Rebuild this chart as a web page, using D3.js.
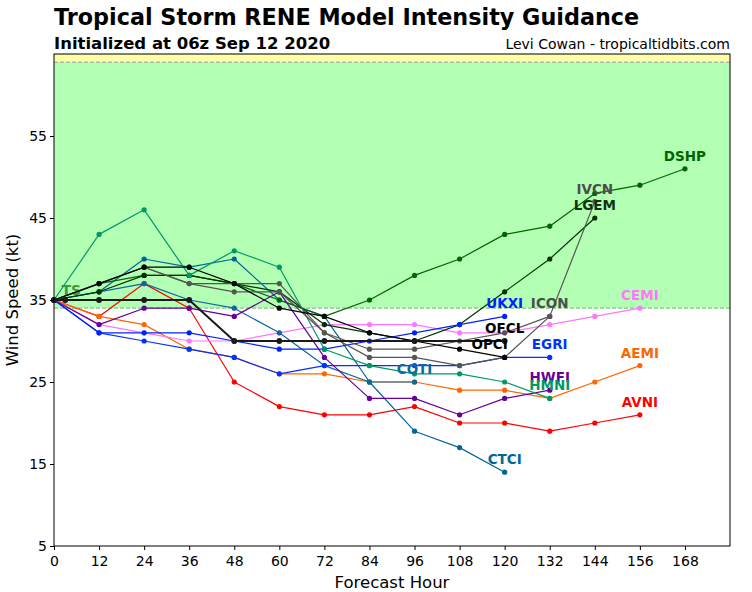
<!DOCTYPE html>
<html>
<head>
<meta charset="utf-8">
<script src="https://cdn.jsdelivr.net/npm/d3@7"></script>
<style>
  html, body { margin: 0; padding: 0; background: #ffffff; }
  svg { display: block; }
  text { font-family: "DejaVu Sans", sans-serif; }
</style>
</head>
<body>
<svg id="chart" width="752" height="592"></svg>
<script>
// ---------------- DATA ----------------
const hours12 = [0, 12, 24, 36, 48, 60, 72, 84, 96, 108, 120, 132, 144, 156, 168];
const xTicks = [0, 12, 24, 36, 48, 60, 72, 84, 96, 108, 120, 132, 144, 156, 168];
const yTicks = [5, 15, 25, 35, 45, 55];
const modelNames = ["AVNI", "AEMI", "CEMI", "CTCI", "COTI", "DSHP", "LGEM", "EGRI", "UKXI",
                    "HWFI", "HMNI", "IVCN", "ICON", "OPCI", "OFCL"];

const avni = [35, 33, 37, 34, 25, 22, 21, 21, 22, 20, 20, 19, 20, 21];
const aemi = [35, 33, 32, 29, 28, 26, 26, 25, 25, 24, 24, 23, 25, 27];
const cemi = [35, 32, 31, 30, 30, 31, 32, 32, 32, 31, 31, 32, 33, 34];
const ctci = [35, 36, 40, 39, 40, 35, 33, 25, 19, 17, 14];
const coti = [35, 36, 37, 35, 34, 31, 27, 25, 25];
const dshp = [35, 37, 38, 38, 37, 35, 33, 35, 38, 40, 43, 44, 48, 49, 51];
const lgem = [35, 36, 38, 38, 37, 36, 32, 31, 30, 32, 36, 40, 45];
const egri = [35, 31, 30, 29, 28, 26, 27, 27, 27, 27, 28, 28];
const ukxi = [35, 31, 31, 31, 30, 29, 29, 30, 31, 32, 33];
const hwfi = [35, 32, 34, 34, 33, 36, 28, 23, 23, 21, 23, 24];
const hmni = [35, 43, 46, 38, 41, 39, 29, 27, 26, 26, 25, 23];
const ivcn = [35, 37, 39, 37, 36, 36, 31, 28, 28, 27, 28, 33, 47];
const icon = [35, 37, 39, 37, 37, 37, 31, 29, 29, 30, 31, 33];
const opci = [35, 37, 39, 39, 37, 34, 33, 31, 30, 29, 28];
const ofclHours = [0, 3, 12, 24, 36, 48, 60, 72, 96, 120];
const ofcl = [35, 35, 35, 35, 35, 30, 30, 30, 30, 30];

const tsThreshold = 34;
const hurricaneThreshold = 64;

// ---------------- BUILD ----------------
const seriesValues = {AVNI: avni, AEMI: aemi, CEMI: cemi, CTCI: ctci, COTI: coti, DSHP: dshp,
  LGEM: lgem, EGRI: egri, UKXI: ukxi, HWFI: hwfi, HMNI: hmni, IVCN: ivcn, ICON: icon,
  OPCI: opci, OFCL: ofcl};
const seriesHours = {OFCL: ofclHours};

const colors = {AVNI: "#ff0000", AEMI: "#ff6600", CEMI: "#ff77ff", CTCI: "#006699",
  COTI: "#0a6aa0", DSHP: "#006600", LGEM: "#003300", EGRI: "#0033ff", UKXI: "#0022ff",
  HWFI: "#660099", HMNI: "#009966", IVCN: "#555555", ICON: "#555555", OPCI: "#000000",
  OFCL: "#1a1a1a"};
const labelColors = Object.assign({}, colors, {IVCN: "#4d4d4d", ICON: "#4d4d4d", LGEM: "#113311", OFCL: "#000000"});
const labelNudge = {OPCI: [-15, 0]};

const series = modelNames.map(name => {
  const vals = seriesValues[name];
  const hrs = seriesHours[name] || hours12;
  return {name, points: vals.map((v, i) => ({h: hrs[i], v}))};
});

const W = 752, H = 592;
const margin = {left: 54, right: 22, top: 54, bottom: 46};
const svg = d3.select("#chart");

const x = d3.scaleLinear().domain([0, 180]).range([margin.left, W - margin.right]);
const y = d3.scaleLinear().domain([5, 65]).range([H - margin.bottom, margin.top]);

// background bands
svg.append("rect")
  .attr("x", x(0)).attr("width", x(180) - x(0))
  .attr("y", y(65)).attr("height", y(hurricaneThreshold) - y(65))
  .attr("fill", "#ffffa8");
svg.append("rect")
  .attr("x", x(0)).attr("width", x(180) - x(0))
  .attr("y", y(hurricaneThreshold)).attr("height", y(tsThreshold) - y(hurricaneThreshold))
  .attr("fill", "#b3ffb3");

svg.append("line")
  .attr("x1", x(0)).attr("x2", x(180))
  .attr("y1", y(hurricaneThreshold)).attr("y2", y(hurricaneThreshold))
  .attr("stroke", "#9a9a9a").attr("stroke-width", 1).attr("stroke-dasharray", "4,2");
svg.append("line")
  .attr("x1", x(0)).attr("x2", x(180))
  .attr("y1", y(tsThreshold)).attr("y2", y(tsThreshold))
  .attr("stroke", "#86c486").attr("stroke-width", 1.3).attr("stroke-dasharray", "4,2");

svg.append("text")
  .attr("x", x(2)).attr("y", y(35.6))
  .attr("fill", "#3c9a3c").attr("font-size", 14).attr("font-weight", "bold")
  .text("TS");

// series
const line = d3.line().x(d => x(d.h)).y(d => y(d.v));
const g = svg.append("g");
series.forEach(s => {
  const isOfcl = s.name === "OFCL";
  g.append("path")
    .datum(s.points)
    .attr("fill", "none")
    .attr("stroke", colors[s.name])
    .attr("stroke-width", isOfcl ? 2 : 1.2)
    .attr("stroke-linejoin", "round")
    .attr("d", line);
  g.selectAll(null)
    .data(s.points)
    .enter().append("circle")
    .attr("cx", d => x(d.h)).attr("cy", d => y(d.v))
    .attr("r", isOfcl ? 2.9 : 2.6)
    .attr("fill", colors[s.name]);
});

// labels
series.forEach(s => {
  const last = s.points[s.points.length - 1];
  const nd = labelNudge[s.name] || [0, 0];
  svg.append("text")
    .attr("x", x(last.h) + nd[0])
    .attr("y", y(last.v) - 8 + nd[1])
    .attr("text-anchor", "middle")
    .attr("fill", labelColors[s.name])
    .attr("font-size", 13.5).attr("font-weight", "bold")
    .text(s.name);
});

// frame
svg.append("rect")
  .attr("x", x(0)).attr("y", y(65))
  .attr("width", x(180) - x(0)).attr("height", y(5) - y(65))
  .attr("fill", "none").attr("stroke", "#000").attr("stroke-width", 1);

// axes
const xAxis = svg.append("g")
  .attr("transform", `translate(0,${y(5)})`)
  .call(d3.axisBottom(x).tickValues(xTicks).tickSize(4).tickSizeOuter(0));
const yAxis = svg.append("g")
  .attr("transform", `translate(${x(0)},0)`)
  .call(d3.axisLeft(y).tickValues(yTicks).tickSize(4).tickSizeOuter(0));
[xAxis, yAxis].forEach(a => {
  a.select(".domain").remove();
  a.selectAll("text").attr("font-size", 14).attr("font-family", "DejaVu Sans, sans-serif").attr("fill", "#000");
  a.selectAll("line").attr("stroke", "#000");
});
xAxis.selectAll("text").attr("dy", "0.9em");

svg.append("text")
  .attr("x", (x(0) + x(180)) / 2).attr("y", 588)
  .attr("text-anchor", "middle").attr("font-size", 16.5)
  .text("Forecast Hour");
svg.append("text")
  .attr("transform", `translate(18,${(y(5) + y(65)) / 2}) rotate(-90)`)
  .attr("text-anchor", "middle").attr("font-size", 16.5)
  .text("Wind Speed (kt)");

// titles
svg.append("text")
  .attr("x", 54).attr("y", 25)
  .attr("font-size", 22.3).attr("font-weight", "bold")
  .text("Tropical Storm RENE Model Intensity Guidance");
svg.append("text")
  .attr("x", 54).attr("y", 49)
  .attr("font-size", 16.5).attr("font-weight", "bold")
  .text("Initialized at 06z Sep 12 2020");
svg.append("text")
  .attr("x", 730).attr("y", 49)
  .attr("text-anchor", "end").attr("font-size", 14)
  .text("Levi Cowan - tropicaltidbits.com");
</script>
</body>
</html>
